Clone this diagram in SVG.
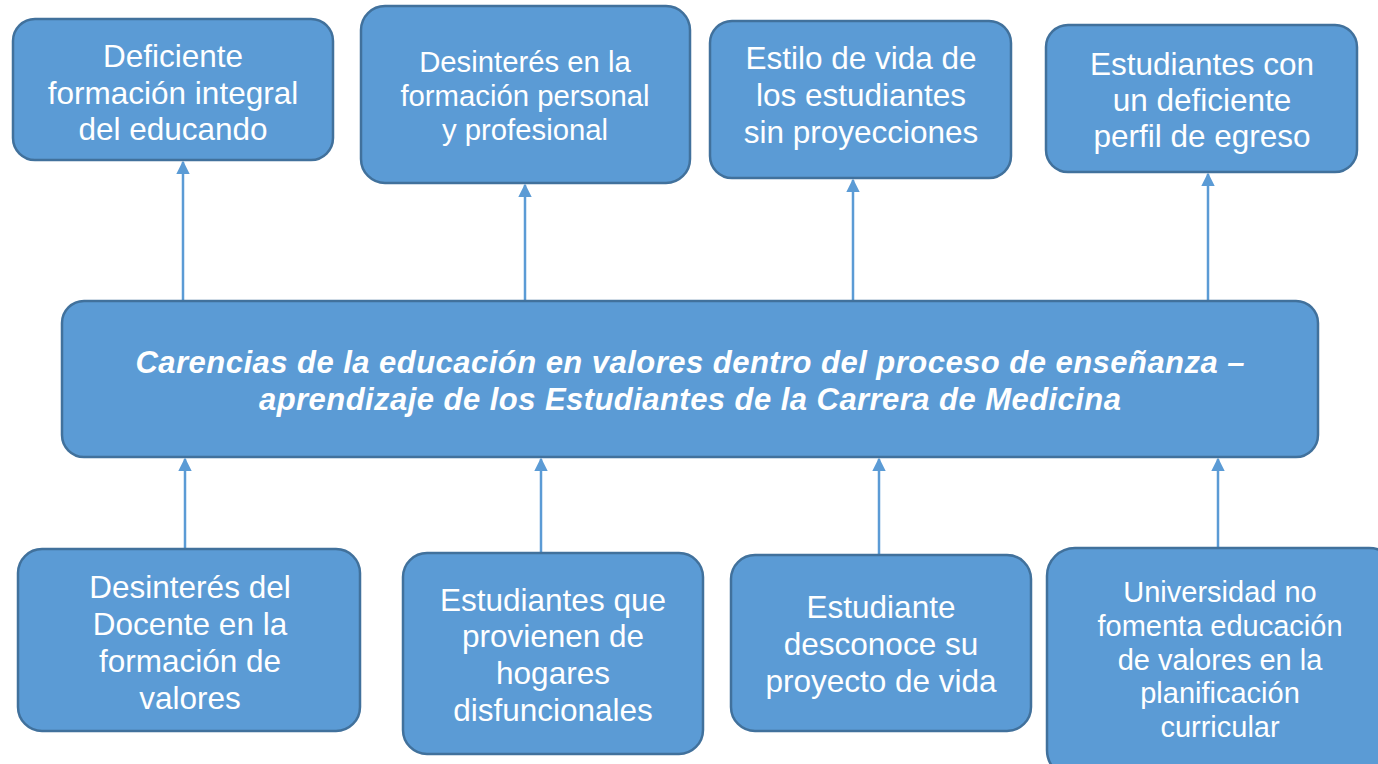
<svg xmlns="http://www.w3.org/2000/svg" width="1378" height="764" viewBox="0 0 1378 764">
<style>
.box{fill:#5B9BD5;stroke:#41719C;stroke-width:2.5}
.t{fill:#fff;font-family:"Liberation Sans",Arial,sans-serif;text-anchor:middle;dominant-baseline:central}
.c{stroke:#5B9BD5;stroke-width:2.5;fill:none;marker-end:url(#ah)}
</style>
<defs>
<marker id="ah" viewBox="0 0 10 10" refX="9" refY="5" markerWidth="5.5" markerHeight="5.5" orient="auto" markerUnits="strokeWidth"><path d="M0,0 L10,5 L0,10 Z" fill="#5B9BD5"/></marker>
</defs>
<rect width="1378" height="764" fill="#fff"/>
<g id="connectors">
<line class="c" x1="183" y1="301" x2="183" y2="162"/>
<line class="c" x1="525" y1="301" x2="525" y2="185"/>
<line class="c" x1="853" y1="301" x2="853" y2="180"/>
<line class="c" x1="1208" y1="301" x2="1208" y2="174"/>
<line class="c" x1="185" y1="549" x2="185" y2="459"/>
<line class="c" x1="541" y1="553" x2="541" y2="459"/>
<line class="c" x1="879" y1="555" x2="879" y2="459"/>
<line class="c" x1="1218" y1="548" x2="1218" y2="459"/>
</g>
<g id="top1"><rect class="box" x="13" y="19" width="320" height="141" rx="22"/>
<text class="t" font-size="31.5"><tspan x="173" y="56">Deficiente</tspan><tspan x="173" y="93">formación integral</tspan><tspan x="173" y="129">del educando</tspan></text></g>
<g id="top2"><rect class="box" x="361" y="6" width="329" height="177" rx="24"/>
<text class="t" font-size="29.3"><tspan x="525" y="61">Desinterés en la</tspan><tspan x="525" y="95">formación personal</tspan><tspan x="525" y="129">y profesional</tspan></text></g>
<g id="top3"><rect class="box" x="710" y="21" width="301" height="157" rx="22"/>
<text class="t" font-size="31.5"><tspan x="861" y="58">Estilo de vida de</tspan><tspan x="861" y="95">los estudiantes</tspan><tspan x="861" y="132">sin proyecciones</tspan></text></g>
<g id="top4"><rect class="box" x="1046" y="25" width="311" height="147" rx="22"/>
<text class="t" font-size="31.5"><tspan x="1202" y="64">Estudiantes con</tspan><tspan x="1202" y="100">un deficiente</tspan><tspan x="1202" y="136">perfil de egreso</tspan></text></g>
<g id="center"><rect class="box" x="62" y="301" width="1256" height="156" rx="22"/>
<text class="t" font-size="31" font-weight="bold" font-style="italic"><tspan x="690" y="362" textLength="1109" lengthAdjust="spacing">Carencias de la educación en valores dentro del proceso de enseñanza –</tspan><tspan x="690" y="399" textLength="862" lengthAdjust="spacing">aprendizaje de los Estudiantes de la Carrera de Medicina</tspan></text></g>
<g id="bot1"><rect class="box" x="18" y="549" width="342" height="182" rx="24"/>
<text class="t" font-size="31.5"><tspan x="190" y="587">Desinterés del</tspan><tspan x="190" y="624">Docente en la</tspan><tspan x="190" y="661">formación de</tspan><tspan x="190" y="698">valores</tspan></text></g>
<g id="bot2"><rect class="box" x="403" y="553" width="300" height="201" rx="24"/>
<text class="t" font-size="31.5"><tspan x="553" y="600">Estudiantes que</tspan><tspan x="553" y="636">provienen de</tspan><tspan x="553" y="673">hogares</tspan><tspan x="553" y="710">disfuncionales</tspan></text></g>
<g id="bot3"><rect class="box" x="731" y="555" width="300" height="176" rx="24"/>
<text class="t" font-size="31.5"><tspan x="881" y="607">Estudiante</tspan><tspan x="881" y="644">desconoce su</tspan><tspan x="881" y="681">proyecto de vida</tspan></text></g>
<g id="bot4"><rect class="box" x="1047" y="548" width="350" height="230" rx="28"/>
<text class="t" font-size="29"><tspan x="1220" y="592">Universidad no</tspan><tspan x="1220" y="626">fomenta educación</tspan><tspan x="1220" y="660">de valores en la</tspan><tspan x="1220" y="693">planificación</tspan><tspan x="1220" y="727">curricular</tspan></text></g>
</svg>
